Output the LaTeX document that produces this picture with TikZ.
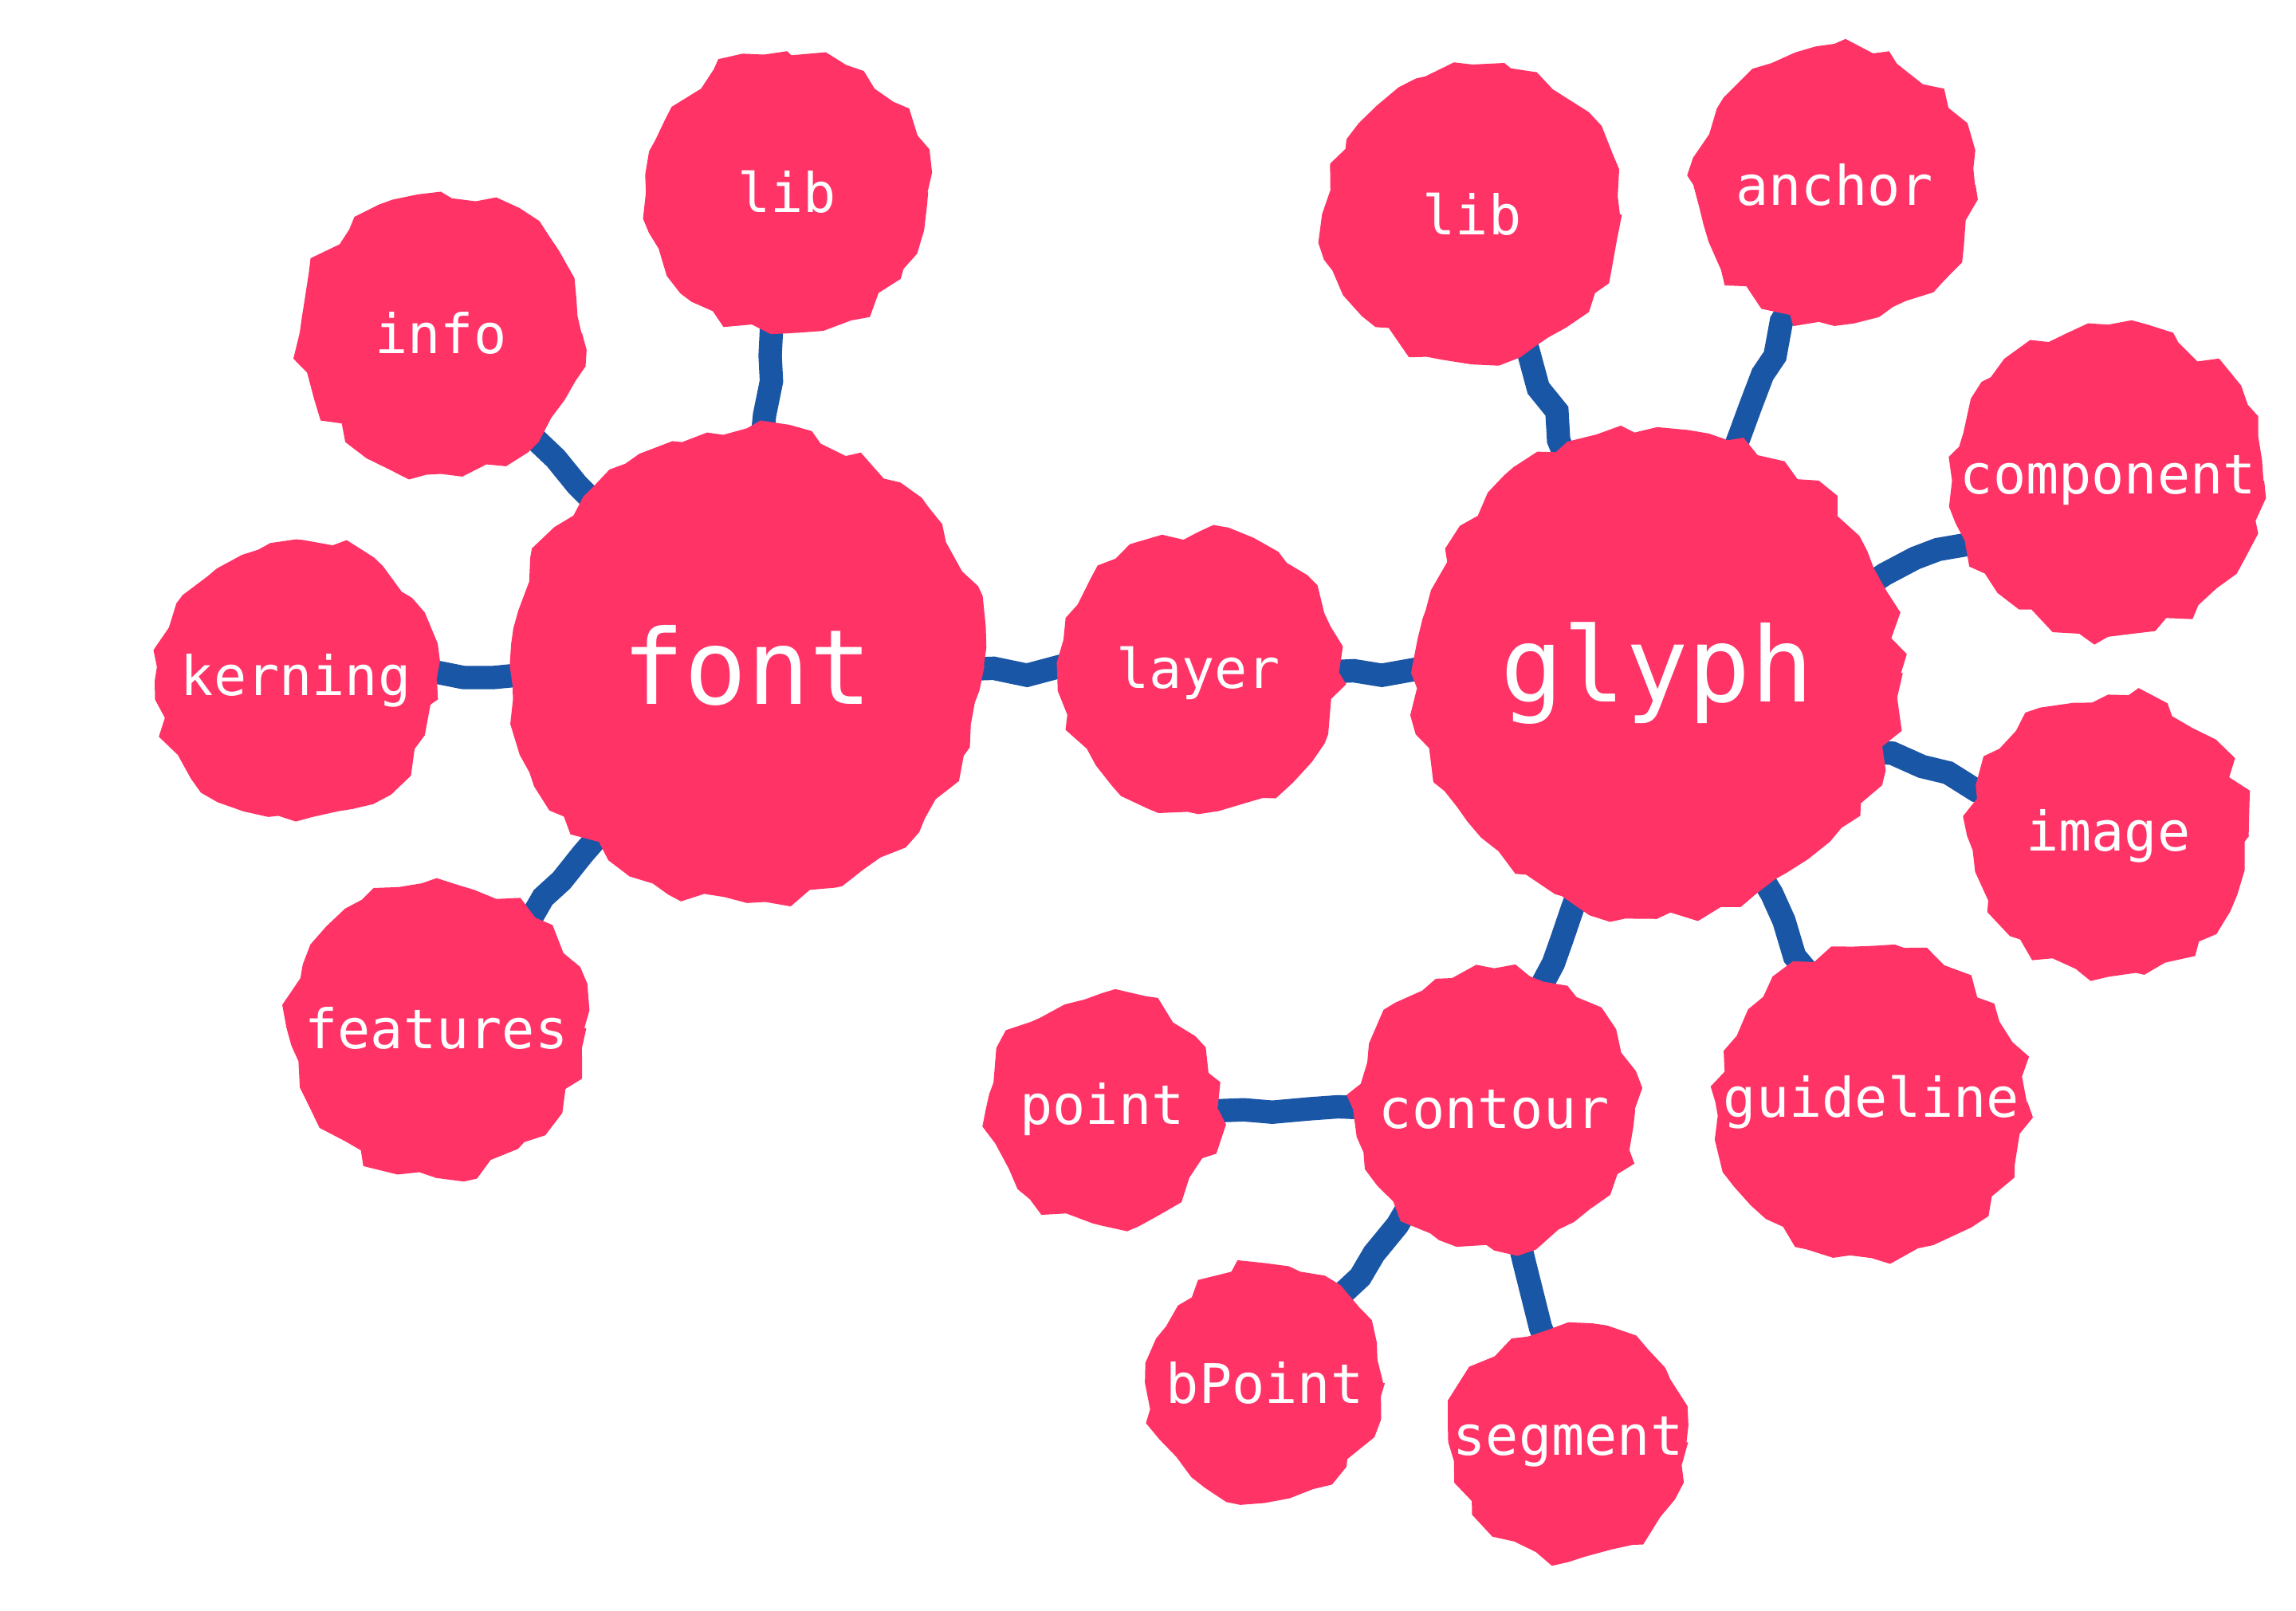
\documentclass[tikz,border=0pt]{standalone}
\usepackage{fontspec}
\setmonofont{DejaVu Sans Mono}
\usetikzlibrary{decorations.pathmorphing}
\definecolor{blobred}{HTML}{FF3366}
\definecolor{linkblue}{HTML}{1A56A6}

\begin{document}
\begin{tikzpicture}[
        blob/.style={fill=blobred, decorate, decoration={random steps, segment length=4pt, amplitude=1.5pt}},
        link/.style={draw=linkblue, line width=4.5pt, decorate, decoration={random steps, segment length=6pt, amplitude=1pt}},
        lbl/.style={text=white, font=\ttfamily\fontsize{10.5}{12}\selectfont},
        biglbl/.style={text=white, font=\ttfamily\fontsize{20}{24}\selectfont}
    ]
    \pgfmathsetseed{11}
    \useasboundingbox (0,0) rectangle (15.52,-10.89);

    % --- Node centres ---
    \coordinate (font) at (5.05,-4.50);
    \coordinate (libA) at (5.32,-1.30);
    \coordinate (info) at (2.98,-2.25);
    \coordinate (kerning) at (2.00,-4.60);
    \coordinate (features) at (2.95,-6.95);
    \coordinate (layer) at (8.10,-4.55);
    \coordinate (glyph) at (11.20,-4.55);
    \coordinate (libB) at (9.95,-1.45);
    \coordinate (anchor) at (12.40,-1.25);
    \coordinate (component) at (14.25,-3.25);
    \coordinate (image) at (14.25,-5.65);
    \coordinate (guideline) at (12.65,-7.45);
    \coordinate (contour) at (10.10,-7.50);
    \coordinate (point) at (7.45,-7.50);
    \coordinate (bPoint) at (8.55,-9.35);
    \coordinate (segment) at (10.60,-9.75);

    % --- Connectors ---
    \foreach \a/\b in {font/libA, font/info, font/kerning, font/features, font/layer,
                       layer/glyph, glyph/libB, glyph/anchor, glyph/component, glyph/image,
                       glyph/guideline, glyph/contour, contour/point, contour/bPoint, contour/segment}
        \draw[link] (\a) -- (\b);

    % --- Blobs ---
    \foreach \c/\r in {font/1.6, glyph/1.65, libA/0.95, info/0.95, kerning/0.95, features/1.0,
                       layer/0.95, libB/1.0, anchor/0.95, component/1.05, image/0.95,
                       guideline/1.05, contour/0.95, point/0.78, bPoint/0.8, segment/0.8}
        \fill[blob] (\c) circle (\r);

    % --- Labels ---
    \node[biglbl] (fontlbl) at (font) {font};
    \node[biglbl] (glyphlbl) at (glyph) {glyph};
    \node[lbl] (libAlbl) at (libA) {lib};
    \node[lbl] (infolbl) at (info) {info};
    \node[lbl] (kerninglbl) at (kerning) {kerning};
    \node[lbl] (featureslbl) at (features) {features};
    \node[lbl] (layerlbl) at (layer) {layer};
    \node[lbl] (libBlbl) at (libB) {lib};
    \node[lbl] (anchorlbl) at (anchor) {anchor};
    \node[lbl] (componentlbl) at (component) {component};
    \node[lbl] (imagelbl) at (image) {image};
    \node[lbl] (guidelinelbl) at (guideline) {guideline};
    \node[lbl] (contourlbl) at (contour) {contour};
    \node[lbl] (pointlbl) at (point) {point};
    \node[lbl] (bPointlbl) at (bPoint) {bPoint};
    \node[lbl] (segmentlbl) at (segment) {segment};
\end{tikzpicture}
\end{document}
